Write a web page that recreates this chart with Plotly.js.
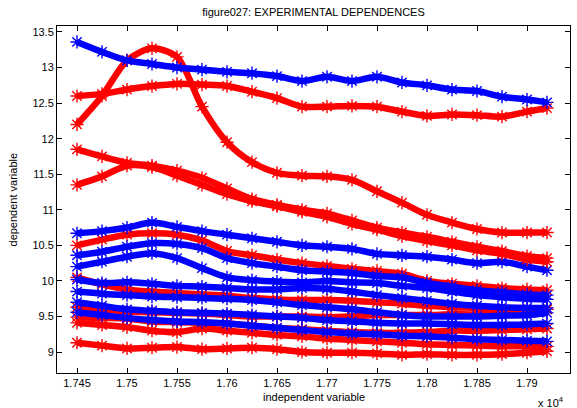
<!DOCTYPE html>
<html>
<head>
<meta charset="utf-8">
<script src="https://cdn.plot.ly/plotly-3.0.1.min.js"></script>
<style>html,body{margin:0;padding:0;background:#fff;}#chart{width:577px;height:408px;}</style>
</head>
<body>
<div id="chart"></div>
<script>
// independent variable (raw units; axis shown as x 10^4)
const xs = [17450,17475,17500,17525,17550,17575,17600,17625,17650,17675,17700,17725,17750,17775,17800,17825,17850,17875,17900,17920];

// red series
const redB = [12.60,12.63,12.69,12.74,12.77,12.76,12.74,12.66,12.57,12.45,12.45,12.46,12.45,12.38,12.32,12.34,12.33,12.31,12.38,12.43];
const redC = [12.20,12.60,13.10,13.27,13.15,12.45,11.95,11.67,11.52,11.48,11.47,11.42,11.26,11.10,10.93,10.82,10.73,10.68,10.68,10.68];
const redD = [11.85,11.75,11.66,11.62,11.55,11.45,11.30,11.15,11.07,11.00,10.95,10.85,10.75,10.68,10.62,10.55,10.48,10.42,10.35,10.32];
const redE = [11.35,11.47,11.62,11.60,11.48,11.35,11.22,11.12,11.05,10.97,10.90,10.80,10.72,10.63,10.56,10.50,10.43,10.38,10.30,10.27];
const redG = [10.50,10.58,10.65,10.67,10.65,10.57,10.42,10.36,10.30,10.25,10.21,10.17,10.14,10.10,10.00,9.96,9.93,9.90,9.88,9.87];
const redP = [10.05,9.95,9.88,9.85,9.83,9.81,9.79,9.76,9.74,9.73,9.73,9.72,9.70,9.68,9.65,9.63,9.62,9.60,9.60,9.60];
const redQ = [9.63,9.60,9.57,9.56,9.55,9.54,9.52,9.50,9.50,9.50,9.49,9.50,9.52,9.52,9.52,9.53,9.53,9.55,9.57,9.60];
const redR = [9.49,9.48,9.47,9.43,9.42,9.41,9.40,9.37,9.34,9.32,9.30,9.28,9.27,9.27,9.28,9.30,9.30,9.31,9.32,9.33];
const redS = [9.41,9.38,9.35,9.30,9.28,9.33,9.30,9.27,9.24,9.22,9.19,9.17,9.15,9.13,9.11,9.10,9.09,9.08,9.08,9.08];
const redT = [9.13,9.09,9.05,9.06,9.07,9.04,9.05,9.06,9.04,9.00,8.99,8.99,8.98,8.96,8.97,8.96,8.96,8.97,8.99,9.01];

// blue series
const blueA = [13.36,13.22,13.10,13.05,13.00,12.97,12.94,12.92,12.88,12.81,12.87,12.81,12.87,12.79,12.75,12.69,12.67,12.59,12.55,12.51];
const blueF = [10.67,10.70,10.75,10.82,10.76,10.70,10.65,10.60,10.55,10.50,10.48,10.45,10.38,10.36,10.34,10.30,10.25,10.27,10.20,10.15];
const blueH = [10.36,10.41,10.48,10.53,10.52,10.46,10.32,10.25,10.20,10.15,10.13,10.11,10.07,10.05,9.97,9.92,9.87,9.84,9.81,9.80];
const blueI = [10.20,10.27,10.34,10.39,10.32,10.18,10.05,10.01,9.99,9.98,10.00,9.98,9.97,9.93,9.90,9.85,9.80,9.77,9.75,9.74];
const blueJ = [10.02,9.97,9.98,9.96,9.93,9.92,9.90,9.88,9.88,9.90,9.89,9.85,9.80,9.76,9.72,9.68,9.65,9.63,9.62,9.62];
const blueK = [9.85,9.82,9.80,9.78,9.77,9.76,9.75,9.73,9.70,9.66,9.63,9.60,9.56,9.52,9.50,9.50,9.50,9.51,9.52,9.55];
const blueL = [9.70,9.65,9.60,9.58,9.56,9.55,9.54,9.52,9.50,9.48,9.45,9.43,9.41,9.40,9.40,9.39,9.38,9.38,9.39,9.40];
const blueM = [9.56,9.52,9.48,9.45,9.43,9.42,9.40,9.37,9.34,9.31,9.28,9.26,9.25,9.23,9.22,9.20,9.18,9.17,9.16,9.15];

// tick labels
const xTickVals = [17450,17500,17550,17600,17650,17700,17750,17800,17850,17900];
const xTickText = ["1.745","1.75","1.755","1.76","1.765","1.77","1.775","1.78","1.785","1.79"];
const yTickVals = [9,9.5,10,10.5,11,11.5,12,12.5,13,13.5];
const yTickText = ["9","9.5","10","10.5","11","11.5","12","12.5","13","13.5"];

const RED = "#ff0000", BLUE = "#0000ff";
const order = [
  [redT,RED],[redS,RED],[redR,RED],[redQ,RED],[redP,RED],
  [blueM,BLUE],[blueL,BLUE],[blueK,BLUE],[blueJ,BLUE],
  [redG,RED],[blueI,BLUE],[blueH,BLUE],[blueF,BLUE],
  [redE,RED],[redD,RED],[redC,RED],[redB,RED],[blueA,BLUE]
];

const traces = order.map(([ys,c]) => ({
  x: xs, y: ys, type: "scatter", mode: "lines+markers",
  line: {color: c, width: 6.5, shape: "spline", smoothing: 0.8},
  marker: {symbol: "asterisk-open", size: 11, color: c, line: {color: c, width: 1.4}},
  showlegend: false, hoverinfo: "skip"
}));

const FONT = "Liberation Sans, Arial, sans-serif";
const axisCommon = {
  showgrid: false, zeroline: false, showline: true, mirror: "ticks",
  linecolor: "#000", linewidth: 1, ticks: "inside", ticklen: 5, tickcolor: "#000", tickwidth: 1,
  tickfont: {family: FONT, size: 11, color: "#000"}
};

const layout = {
  width: 577, height: 408,
  margin: {l: 57, r: 7, t: 26, b: 35},
  paper_bgcolor: "#fff", plot_bgcolor: "#fff",
  title: {text: "figure027: EXPERIMENTAL DEPENDENCES", font: {family: FONT, size: 11, color: "#000"},
          x: 0.5, xref: "paper", y: 0.97, yref: "container", yanchor: "middle"},
  xaxis: Object.assign({}, axisCommon, {range: [17430, 17943], tickmode: "array", tickvals: xTickVals, ticktext: xTickText}),
  yaxis: Object.assign({}, axisCommon, {range: [8.705, 13.584], tickmode: "array", tickvals: yTickVals, ticktext: yTickText}),
  annotations: [
    {text: "independent variable", xref: "paper", yref: "paper", x: 0.5, y: -0.069, xanchor: "center", yanchor: "middle", showarrow: false,
     font: {family: FONT, size: 11, color: "#000"}},
    {text: "dependent variable", xref: "paper", yref: "paper", x: -0.0858, y: 0.5, xanchor: "center", yanchor: "middle", textangle: -90, showarrow: false,
     font: {family: FONT, size: 11, color: "#000"}},
    {text: "x 10<sup>4</sup>", xref: "paper", yref: "paper", x: 0.962, y: -0.085, xanchor: "center", yanchor: "middle", showarrow: false,
     font: {family: FONT, size: 11, color: "#000"}}
  ]
};

Plotly.newPlot("chart", traces, layout, {displayModeBar: false, staticPlot: true});
</script>
</body>
</html>
